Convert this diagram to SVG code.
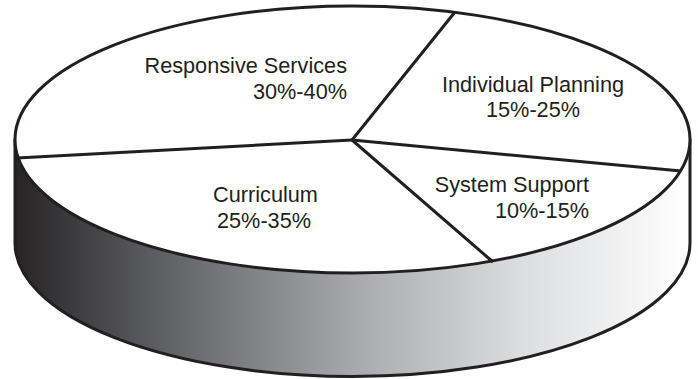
<svg xmlns="http://www.w3.org/2000/svg" width="698" height="379" viewBox="0 0 698 379">
<defs>
<linearGradient id="side" x1="15" y1="0" x2="690" y2="0" gradientUnits="userSpaceOnUse">
<stop offset="0" stop-color="#262425"/>
<stop offset="0.2" stop-color="#5a5b5e"/>
<stop offset="0.5" stop-color="#a6a8ab"/>
<stop offset="0.75" stop-color="#dcdddf"/>
<stop offset="1" stop-color="#ffffff"/>
</linearGradient>
<style>
.edge{stroke:#231f20;stroke-width:3;stroke-linejoin:round}
.lbl{font-family:"Liberation Sans",Arial,sans-serif;font-size:21.7px;fill:#231f20}
</style>
</defs>
<g id="pie-side">
<path class="edge" fill="url(#side)" d="M15,139.5 L15,243 A337.5,133.5 0 0 0 690,243 L690,139.5 Z"/>
</g>
<g id="pie-top">
<ellipse class="edge" cx="352.5" cy="139.5" rx="337.5" ry="133.5" fill="#ffffff"/>
</g>
<g id="connectors" fill="none" class="edge">
<line x1="352" y1="140" x2="17" y2="158"/>
<line x1="352" y1="140" x2="455" y2="12"/>
<line x1="352" y1="140" x2="681" y2="171"/>
<line x1="352" y1="140" x2="493" y2="262"/>
</g>
<g id="responsive-services">
<text class="lbl" x="347" y="73" text-anchor="end">Responsive Services</text>
<text class="lbl" x="347" y="99" text-anchor="end">30%-40%</text>
</g>
<g id="individual-planning">
<text class="lbl" x="533" y="92" text-anchor="middle">Individual Planning</text>
<text class="lbl" x="533" y="117" text-anchor="middle">15%-25%</text>
</g>
<g id="system-support">
<text class="lbl" x="589" y="192" text-anchor="end">System Support</text>
<text class="lbl" x="589" y="218" text-anchor="end">10%-15%</text>
</g>
<g id="curriculum">
<text class="lbl" x="265.5" y="202" text-anchor="middle">Curriculum</text>
<text class="lbl" x="264" y="228" text-anchor="middle">25%-35%</text>
</g>
</svg>
